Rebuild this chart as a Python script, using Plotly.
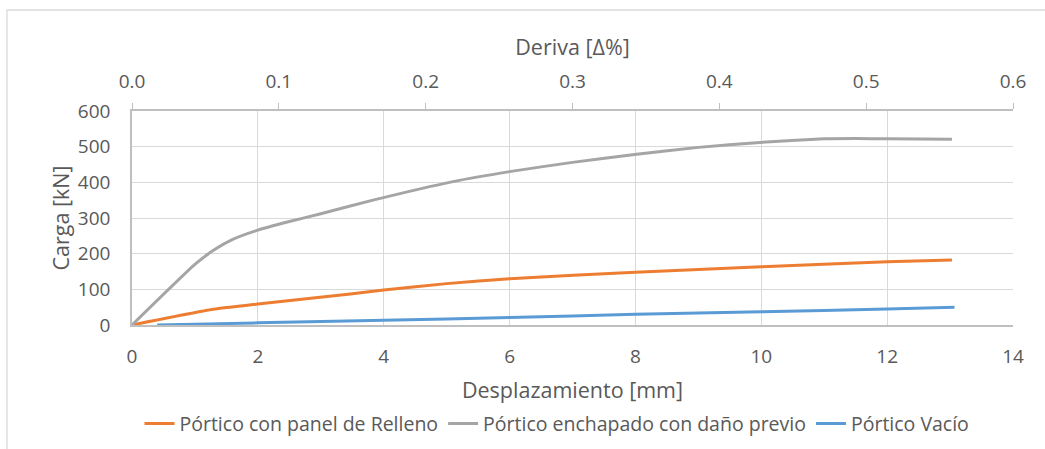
import plotly.graph_objects as go

# Desplazamiento [mm] y carga [kN] de cada ensayo
desp_enchapado = [0.0, 1.0, 1.3, 1.6, 2.0, 2.5, 3.0, 3.83, 5.1, 6.0, 7.0, 8.02, 9.0, 9.98, 11.0, 11.5, 12.0, 13.03]
carga_enchapado = [0, 170, 210, 240, 266, 290, 312, 350, 402, 430, 456, 479, 498, 512, 522, 523, 522, 521]

desp_relleno = [0.0, 1.29, 2.0, 3.47, 4.0, 5.0, 6.0, 8.0, 10.0, 12.0, 13.03]
carga_relleno = [0, 44, 59, 87, 98, 116, 130, 148, 163, 177, 182]

desp_vacio = [0.4, 2.0, 4.0, 6.0, 8.0, 10.0, 12.0, 13.07]
carga_vacio = [0, 6, 13, 21, 30, 37, 45, 50]

# Escalas de los ejes
x_range = [0, 14]
y_range = [0, 600]
deriva_range = [0, 0.6]

FONT = "Open Sans"
TXT = "#595959"
GRID = "#d9d9d9"
AXIS = "#bfbfbf"

fig = go.Figure()

fig.add_trace(go.Scatter(
    x=desp_relleno, y=carga_relleno, mode="lines",
    name="Pórtico con panel de Relleno",
    line=dict(color="#ED7D31", width=3, shape="spline", smoothing=0.5),
))
fig.add_trace(go.Scatter(
    x=desp_enchapado, y=carga_enchapado, mode="lines",
    name="Pórtico enchapado con daño previo",
    line=dict(color="#A5A5A5", width=3, shape="spline", smoothing=0.5),
))
fig.add_trace(go.Scatter(
    x=desp_vacio, y=carga_vacio, mode="lines",
    name="Pórtico Vacío",
    line=dict(color="#5B9BD5", width=3, shape="spline", smoothing=0.5),
))
# Eje secundario de deriva (sin marcas propias)
fig.add_trace(go.Scatter(x=[], y=[], xaxis="x2", showlegend=False, hoverinfo="skip"))

fig.update_layout(
    width=1045, height=449,
    margin=dict(l=132, r=32, t=111, b=124, autoexpand=False),
    paper_bgcolor="white", plot_bgcolor="white",
    font=dict(family=FONT, size=19, color=TXT),
    showlegend=True,
    legend=dict(
        orientation="h", xref="container", yref="container",
        x=0.533, xanchor="center", y=0.056, yanchor="middle",
        font=dict(family=FONT, size=19.5, color=TXT),
        itemwidth=30, tracegroupgap=0,
    ),
    xaxis=dict(
        range=x_range, dtick=2, tick0=0,
        showgrid=True, gridcolor=GRID, gridwidth=1.3,
        showline=True, linecolor=AXIS, linewidth=1.5,
        ticks="", zeroline=False, automargin=False,
        ticklabelstandoff=13,
        tickfont=dict(family=FONT, size=19, color=TXT),
        title=dict(text="Desplazamiento [mm]", standoff=16,
                   font=dict(family=FONT, size=21.5, color=TXT)),
    ),
    xaxis2=dict(
        range=deriva_range, dtick=0.1, tick0=0, tickformat=".1f",
        overlaying="x", side="top", anchor="y",
        showgrid=False, zeroline=False, automargin=False,
        showline=True, linecolor=AXIS, linewidth=1.5,
        ticks="outside", ticklen=6, tickcolor=AXIS, tickwidth=1.3,
        ticklabelstandoff=8,
        tickfont=dict(family=FONT, size=19, color=TXT),
        title=dict(text="Deriva [Δ%]", standoff=6,
                   font=dict(family=FONT, size=21.5, color=TXT)),
    ),
    yaxis=dict(
        range=y_range, dtick=100, tick0=0,
        showgrid=True, gridcolor=GRID, gridwidth=1.3,
        showline=True, linecolor=AXIS, linewidth=1.5,
        ticks="", zeroline=False, automargin=False,
        ticklabelstandoff=16,
        tickfont=dict(family=FONT, size=19, color=TXT),
        title=dict(text="Carga [kN]", standoff=2,
                   font=dict(family=FONT, size=21.5, color=TXT)),
    ),
    shapes=[dict(
        type="rect", xref="paper", yref="paper",
        x0=-0.1419, x1=1.3, y0=-1.2, y1=1.472,
        line=dict(color="#d9d9d9", width=1.3), fillcolor="rgba(0,0,0,0)",
        layer="below",
    )],
)

fig.write_html("out.html")
